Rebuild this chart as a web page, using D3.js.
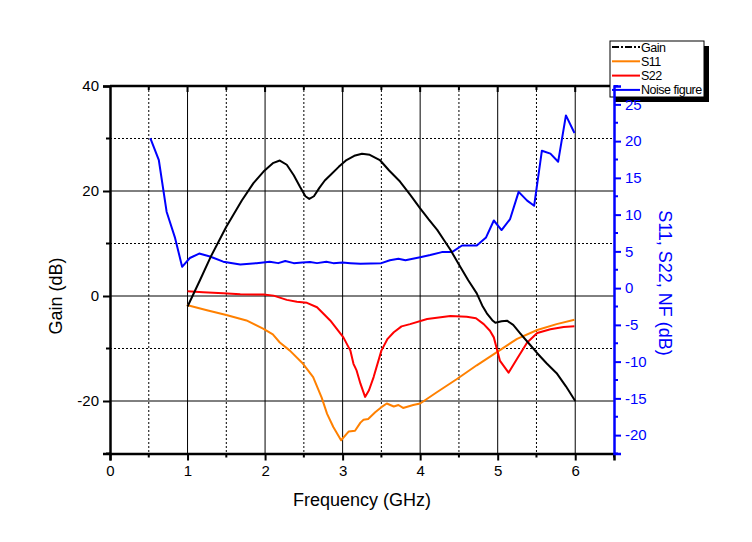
<!DOCTYPE html>
<html><head><meta charset="utf-8">
<script src="https://cdn.jsdelivr.net/npm/d3@7"></script>
<style>body{margin:0;background:#fff}svg{display:block}text{font-family:"Liberation Sans",Arial,sans-serif}</style>
</head><body><svg id="c" width="752" height="542"></svg>
<script>
// ---- data ----
const gainF = [1.0,1.16,1.3,1.5,1.7,1.85,1.98,2.1,2.19,2.28,2.37,2.45,2.52,2.57,2.63,2.7,2.77,2.84,2.95,3.05,3.15,3.25,3.35,3.48,3.6,3.74,3.87,4.0,4.11,4.22,4.3,4.39,4.5,4.62,4.73,4.8,4.86,4.93,4.97,5.05,5.12,5.2,5.29,5.4,5.51,5.63,5.76,5.88,6.0];
const gainV = [-2,3.0,7.5,13.2,18.2,21.5,23.7,25.3,25.8,25.0,23.0,20.8,19.0,18.5,19.0,20.6,22.0,23.0,24.6,25.9,26.7,27.1,26.9,25.9,23.9,21.8,19.3,16.7,14.6,12.6,10.8,8.8,6.0,3.0,0.5,-1.8,-3.3,-4.6,-5.1,-4.8,-4.7,-5.5,-7.1,-9.0,-10.9,-12.8,-14.7,-17.2,-20];
const s11F = [0.99,1.25,1.5,1.76,1.98,2.1,2.19,2.32,2.49,2.62,2.73,2.8,2.88,2.98,3.08,3.16,3.23,3.27,3.33,3.42,3.5,3.57,3.66,3.72,3.78,3.91,4.0,4.21,4.47,4.73,4.99,5.25,5.51,5.76,5.99];
const s11V = [-2.3,-3.0,-3.65,-4.4,-5.55,-6.3,-7.4,-8.5,-10.3,-12.1,-14.9,-17.1,-18.9,-20.7,-19.5,-19.4,-18.3,-17.9,-17.8,-16.9,-16.2,-15.7,-16.1,-15.9,-16.3,-15.9,-15.7,-14.2,-12.4,-10.5,-8.7,-6.9,-5.7,-4.9,-4.3];
const s22F = [1.0,1.2,1.46,1.68,1.98,2.11,2.28,2.41,2.54,2.67,2.84,3.01,3.1,3.14,3.18,3.23,3.29,3.34,3.4,3.5,3.58,3.66,3.76,3.87,4.09,4.39,4.6,4.72,4.82,4.9,4.95,5.03,5.14,5.25,5.38,5.51,5.68,5.85,5.99];
const s22V = [-0.44,-0.57,-0.71,-0.84,-0.88,-1.02,-1.6,-1.84,-2.0,-2.6,-4.4,-6.7,-8.5,-10.3,-11.2,-13.0,-14.8,-13.9,-12.1,-8.5,-6.9,-6.0,-5.2,-4.9,-4.2,-3.8,-3.9,-4.1,-4.9,-5.8,-6.7,-9.9,-11.5,-9.6,-7.4,-6.1,-5.6,-5.3,-5.2];
const nfF = [0.52,0.63,0.73,0.84,0.93,1.03,1.15,1.29,1.46,1.68,1.89,2.06,2.17,2.26,2.37,2.48,2.58,2.67,2.79,2.88,3.0,3.1,3.23,3.5,3.61,3.72,3.81,4.0,4.13,4.28,4.41,4.54,4.73,4.85,4.95,5.05,5.16,5.27,5.38,5.47,5.57,5.68,5.78,5.88,5.99];
const nfV = [20.4,17.4,10.4,6.8,2.9,4.1,4.7,4.3,3.6,3.2,3.4,3.6,3.4,3.7,3.4,3.5,3.55,3.4,3.6,3.4,3.5,3.4,3.3,3.4,3.8,4.0,3.8,4.2,4.5,4.9,4.9,5.8,5.8,6.9,9.2,7.9,9.4,13.1,11.9,11.2,18.7,18.3,17.2,23.5,21.1];
const xTicks = [0,1,2,3,4,5,6];
const yLTicks = [-20,0,20,40];
const yRTicks = [-20,-15,-10,-5,0,5,10,15,20,25];
const legendNames = ["Gain","S11","S22","Noise figure"];

// ---- layout ----
const svg = d3.select("#c");
const L=110,R=614,T=86,B=453.5;
const x = d3.scaleLinear([0,6.5],[L,R]);
const yL = d3.scaleLinear([-30,40],[B,T]);
const yR = d3.scaleLinear([-22.5,27.5],[B,T]);
const blue="#0000FF";
const fmt = d=>String(d);

svg.append("rect").attr("width",752).attr("height",542).attr("fill","#fff");

// grid
const g = svg.append("g");
d3.range(1,13).map(i=>i*0.5).forEach(v=>{
  const major = Math.abs(v-Math.round(v))<1e-9;
  g.append("line").attr("x1",x(v)).attr("x2",x(v)).attr("y1",T).attr("y2",B)
   .attr("stroke","#000").attr("stroke-width",1).attr("stroke-dasharray",major?null:"2,2");
});
[-20,-10,0,10,20,30].forEach(v=>{
  const major = v%20===0;
  g.append("line").attr("x1",L).attr("x2",R).attr("y1",yL(v)).attr("y2",yL(v))
   .attr("stroke","#000").attr("stroke-width",1).attr("stroke-dasharray",major?null:"2,2");
});

// curves
const line = (ys)=>d3.line().x(d=>x(d[0])).y(d=>ys(d[1]));
const draw=(F,V,ys,col)=>svg.append("path").datum(F.map((f,i)=>[f,V[i]]))
  .attr("d",line(ys)).attr("fill","none").attr("stroke",col).attr("stroke-width",2).attr("stroke-linejoin","round");
draw(s11F,s11V,yR,"#FF8000");
draw(s22F,s22V,yR,"#FF0000");
draw(nfF,nfV,yR,blue);
draw(gainF,gainV,yL,"#000");

// top frame with inward ticks
svg.append("line").attr("x1",L).attr("x2",R).attr("y1",T).attr("y2",T).attr("stroke","#000").attr("stroke-width",2.5);
d3.range(1,13).map(i=>i*0.5).forEach(v=>{
  const major = Math.abs(v-Math.round(v))<1e-9;
  svg.append("line").attr("x1",x(v)).attr("x2",x(v)).attr("y1",T).attr("y2",T+(major?6:4)).attr("stroke","#000").attr("stroke-width",2);
});

// bottom axis
const xa = svg.append("g").attr("transform",`translate(0,${B})`)
  .call(d3.axisBottom(x).tickValues(xTicks).tickSize(7).tickPadding(5).tickFormat(fmt));
xa.select(".domain").attr("stroke-width",2.5);
xa.selectAll(".tick line").attr("stroke-width",2);
xa.selectAll("text").attr("font-size",15).attr("fill","#000");
d3.range(0,7).map(i=>i+0.5).forEach(v=>{
  svg.append("line").attr("x1",x(v)).attr("x2",x(v)).attr("y1",B).attr("y2",B+4).attr("stroke","#000").attr("stroke-width",2);
});

// left axis
const la = svg.append("g").attr("transform",`translate(${L},0)`)
  .call(d3.axisLeft(yL).tickValues(yLTicks).tickSize(7).tickPadding(4).tickFormat(fmt));
la.select(".domain").attr("stroke-width",2.5);
la.selectAll(".tick line").attr("stroke-width",2);
la.selectAll("text").attr("font-size",15).attr("fill","#000");
[-30,-10,10,30].forEach(v=>{
  svg.append("line").attr("x1",L).attr("x2",L-4).attr("y1",yL(v)).attr("y2",yL(v)).attr("stroke","#000").attr("stroke-width",2);
});

// legend
const lg = svg.append("g");
lg.append("rect").attr("x",615).attr("y",46).attr("width",94).attr("height",56).attr("fill","#000");
lg.append("rect").attr("x",610).attr("y",41).attr("width",94).attr("height",56).attr("fill","#fff").attr("stroke","#000").attr("stroke-width",1);
const lcol=["#000","#FF8000","#FF0000",blue];
legendNames.forEach((n,i)=>{
  const yy=47+i*14.3;
  lg.append("line").attr("x1",612).attr("x2",640).attr("y1",yy).attr("y2",yy).attr("stroke",lcol[i]).attr("stroke-width",2)
    .attr("stroke-dasharray",i===0?"7,2,2,2":null);
  lg.append("text").attr("x",641).attr("y",yy+4.5).attr("font-size",12.5).attr("letter-spacing",-0.5).text(n);
});

// right axis
const ra = svg.append("g").attr("transform",`translate(${R},0)`)
  .call(d3.axisRight(yR).tickValues(yRTicks).tickSize(7).tickPadding(4).tickFormat(fmt));
ra.select(".domain").attr("stroke",blue).attr("stroke-width",2.5);
ra.selectAll(".tick line").attr("stroke",blue).attr("stroke-width",2);
ra.selectAll("text").attr("font-size",15).attr("fill",blue);
[-22.5,-17.5,-12.5,-7.5,-2.5,2.5,7.5,12.5,17.5,22.5,27.5].forEach(v=>{
  svg.append("line").attr("x1",R).attr("x2",R+4).attr("y1",yR(v)).attr("y2",yR(v)).attr("stroke",blue).attr("stroke-width",2);
});

// titles
svg.append("text").attr("transform","translate(62,296) rotate(-90)").attr("text-anchor","middle").attr("font-size",18).text("Gain (dB)");
svg.append("text").attr("x",362).attr("y",506).attr("text-anchor","middle").attr("font-size",18).text("Frequency (GHz)");
svg.append("text").attr("transform","translate(659,283) rotate(90)").attr("text-anchor","middle").attr("font-size",18).attr("fill",blue).text("S11, S22, NF (dB)");
</script></body></html>
